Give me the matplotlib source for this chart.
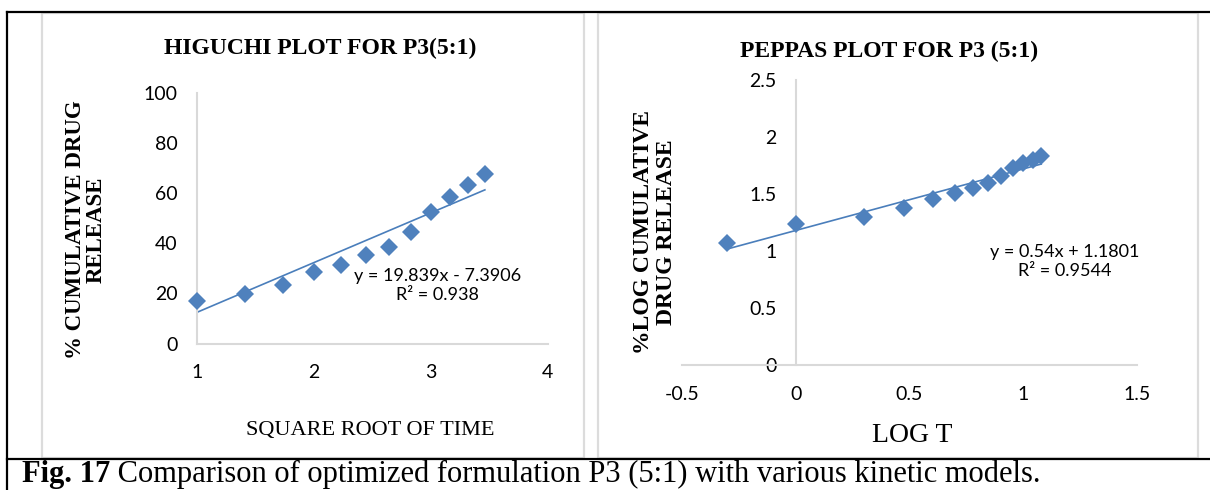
import matplotlib.pyplot as plt
from matplotlib.lines import Line2D
from matplotlib.patches import Rectangle

# Higuchi: sqrt(time) vs % cumulative drug release
HIG_X = [1.0, 1.414, 1.732, 2.0, 2.236, 2.449, 2.646, 2.828, 3.0, 3.162, 3.317, 3.464]
HIG_Y = [17.1, 19.8, 23.4, 28.7, 31.4, 35.4, 38.7, 44.7, 52.5, 58.3, 63.4, 67.7]
HIG_SLOPE, HIG_ICPT = 19.839, -7.3906
HIG_TICKS_X = [1, 2, 3, 4]
HIG_TICKS_Y = [0, 20, 40, 60, 80, 100]

# Peppas: log t vs log % cumulative drug release
PEP_X = [-0.301, 0.0, 0.301, 0.477, 0.602, 0.699, 0.778, 0.845, 0.903, 0.954, 1.0, 1.041, 1.079]
PEP_Y = [1.067, 1.234, 1.30, 1.38, 1.459, 1.506, 1.555, 1.594, 1.658, 1.725, 1.77, 1.80, 1.833]
PEP_SLOPE, PEP_ICPT = 0.54, 1.1801
PEP_TICKS_X = [-0.5, 0, 0.5, 1, 1.5]
PEP_TICKS_Y = [0, 0.5, 1, 1.5, 2, 2.5]

W, H = 1210, 490
BLUE = "#4F81BD"
LINE_BLUE = "#4A7EBB"
GRID = "#D9D9D9"
SERIF = "Liberation Serif"
SANS = "Lato"


def fx(px):
    return px / W


def fy(py):
    return (H - py) / H


def style_axes(ax):
    ax.set_facecolor("none")
    for s in ["top", "right"]:
        ax.spines[s].set_visible(False)
    for s in ["left", "bottom"]:
        ax.spines[s].set_color(GRID)
        ax.spines[s].set_linewidth(1.5)
    ax.tick_params(length=0, labelsize=14, colors="black")
    ax.tick_params(axis="y", pad=14)
    ax.tick_params(axis="x", pad=15)
    for lab in ax.get_xticklabels() + ax.get_yticklabels():
        lab.set_fontfamily(SANS)


fig = plt.figure(figsize=(W / 100, H / 100), dpi=100)

# table / chart frames
for x0, x1 in [(42, 584), (598, 1198)]:
    fig.patches.append(Rectangle((fx(x0), fy(458)), fx(x1) - fx(x0), fy(13) - fy(458),
                                 transform=fig.transFigure, fill=False,
                                 edgecolor="#DCDCDC", linewidth=1.6))
for xs, ys in [([7, 1210], [12, 12]), ([7, 1210], [459, 459]), ([7, 7], [12, 490])]:
    fig.lines.append(Line2D([fx(v) for v in xs], [fy(v) for v in ys],
                            transform=fig.transFigure, color="black", linewidth=1.6))

# Higuchi plot
ax1 = fig.add_axes([fx(197), fy(343.5), fx(547.5) - fx(197), fy(93) - fy(343.5)])
ax1.plot(HIG_X, HIG_Y, linestyle="none", marker="D", markersize=9,
         color=BLUE, markeredgewidth=0, zorder=3, clip_on=False)
tx = [HIG_X[0], HIG_X[-1]]
ax1.plot(tx, [HIG_SLOPE * v + HIG_ICPT for v in tx], color=LINE_BLUE, linewidth=1.2, zorder=2)
ax1.set_xlim(1, 4)
ax1.set_ylim(0, 100)
ax1.set_xticks(HIG_TICKS_X)
ax1.set_yticks(HIG_TICKS_Y)
style_axes(ax1)
ax1.text(3.055, 23.2, "y = 19.839x - 7.3906\nR² = 0.938", ha="center", va="center",
         fontsize=13, family=SANS, linespacing=1.25)

# Peppas plot
ax2 = fig.add_axes([fx(682), fy(365), fx(1137) - fx(682), fy(80) - fy(365)])
ax2.plot(PEP_X, PEP_Y, linestyle="none", marker="D", markersize=9,
         color=BLUE, markeredgewidth=0, zorder=3, clip_on=False)
tx = [PEP_X[0], PEP_X[-1]]
ax2.plot(tx, [PEP_SLOPE * v + PEP_ICPT for v in tx], color=LINE_BLUE, linewidth=1.2, zorder=2)
ax2.set_xlim(-0.5, 1.5)
ax2.set_ylim(0, 2.5)
ax2.set_xticks(PEP_TICKS_X)
ax2.set_xticklabels(["-0.5", "0", "0.5", "1", "1.5"])
ax2.set_yticks(PEP_TICKS_Y)
ax2.set_yticklabels(["0", "0.5", "1", "1.5", "2", "2.5"])
ax2.spines["left"].set_position(("data", 0))
style_axes(ax2)
ax2.text(1.184, 0.91, "y = 0.54x + 1.1801\nR² = 0.9544", ha="center", va="center",
         fontsize=13, family=SANS, linespacing=1.25)

# titles and axis labels
fig.text(fx(320.5), fy(48.5), "HIGUCHI PLOT FOR P3(5:1)", ha="center", va="center",
         fontsize=17, fontweight="bold", family=SERIF)
fig.text(fx(889.5), fy(51.5), "PEPPAS PLOT FOR P3 (5:1)", ha="center", va="center",
         fontsize=17, fontweight="bold", family=SERIF)
fig.text(fx(86), fy(230), "% CUMULATIVE DRUG\nRELEASE", ha="center", va="center",
         rotation=90, fontsize=16.5, fontweight="bold", family=SERIF, linespacing=1.0)
fig.text(fx(655), fy(232), "%LOG CUMULATIVE\nDRUG RELEASE", ha="center", va="center",
         rotation=90, fontsize=17, fontweight="bold", family=SERIF, linespacing=1.15)
fig.text(fx(370.5), fy(430), "SQUARE ROOT OF TIME", ha="center", va="center",
         fontsize=16, family=SERIF)
fig.text(fx(912), fy(435), "LOG T", ha="center", va="center", fontsize=20, family=SERIF)

# caption
cap = fig.text(fx(22), fy(482), "Fig. 17", ha="left", va="baseline",
               fontsize=22, fontweight="bold", family=SERIF)
bb = cap.get_window_extent(renderer=fig.canvas.get_renderer())
fig.text(bb.x1 / W, fy(482), " Comparison of optimized formulation P3 (5:1) with various kinetic models.",
         ha="left", va="baseline", fontsize=22, family=SERIF)

fig.savefig("out.png", dpi=100)
